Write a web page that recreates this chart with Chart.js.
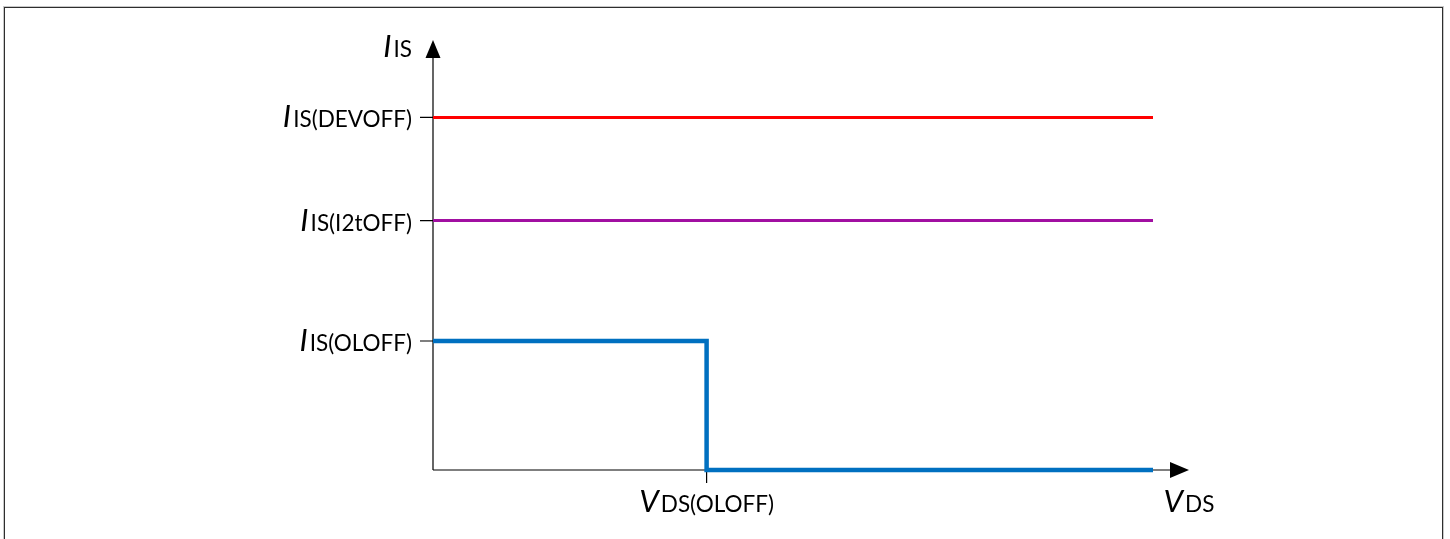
<!DOCTYPE html>
<html lang="en">
<head>
  <meta charset="UTF-8">
  <title>IS vs VDS</title>
  <script src="https://cdn.jsdelivr.net/npm/chart.js"></script>
  <style>
    body {
      margin: 0;
      background-color: #fff;
      overflow: hidden;
    }

    .frame {
      position: absolute;
      left: 4px;
      top: 7px;
      width: 1437px;
      height: 600px;
      border: 1px solid #2e2e2e;
      box-shadow: 0 0 0 1px #c8c8c8;
    }

    #chart {
      position: absolute;
      left: 0;
      top: 0;
    }
  </style>
</head>
<body>

  <div class="frame"></div>
  <canvas id="chart" width="1450" height="539"></canvas>

  <script>
    // axis ranges (arbitrary units)
    const xMax = 10.5;
    const yMax = 10;

    // threshold levels on the IS axis
    const yTickValues = [8.2, 5.8, 3];
    const yTickMain = ["I", "I", "I"];
    const yTickSub = ["IS(DEVOFF)", "IS(I2tOFF)", "IS(OLOFF)"];

    // threshold on the VDS axis
    const xTickValues = [3.8];
    const xTickMain = ["V"];
    const xTickSub = ["DS(OLOFF)"];

    // series
    const devoffX = [0, 10];
    const devoffY = [8.2, 8.2];
    const i2tX = [0, 10];
    const i2tY = [5.8, 5.8];
    const oloffX = [0, 3.8, 3.8, 10];
    const oloffY = [3, 3, 0, 0];

    const FONT = "Lato, 'Open Sans', sans-serif";

    const toPoints = (xs, ys) => xs.map((x, i) => ({ x, y: ys[i] }));

    // draws "I" italic + subscript text, aligned by right edge or center
    function drawRich(ctx, main, sub, x, y, align) {
      const mainFont = "italic 31px " + FONT;
      const subFont = "22.5px " + FONT;
      ctx.font = mainFont;
      const w1 = ctx.measureText(main).width;
      ctx.font = subFont;
      const w2 = ctx.measureText(sub).width;
      const total = w1 + 2 + w2;
      let left = x;
      if (align === "right") left = x - total;
      if (align === "center") left = x - total / 2;
      ctx.fillStyle = "#000";
      ctx.textBaseline = "alphabetic";
      ctx.textAlign = "left";
      ctx.font = mainFont;
      ctx.fillText(main, left, y);
      ctx.font = subFont;
      ctx.fillText(sub, left + w1 + 2, y);
    }

    const axesPlugin = {
      id: "axesPlugin",
      beforeDatasetsDraw(chart) {
        const ctx = chart.ctx;
        const xs = chart.scales.x;
        const ys = chart.scales.y;
        const x0 = xs.getPixelForValue(0);
        const y0 = ys.getPixelForValue(0);
        const xEnd = xs.getPixelForValue(xMax);
        const yEnd = ys.getPixelForValue(yMax);

        ctx.save();
        ctx.strokeStyle = "#000";
        ctx.fillStyle = "#000";
        ctx.lineWidth = 1.2;

        // axis lines
        ctx.beginPath();
        ctx.moveTo(x0, y0);
        ctx.lineTo(x0, yEnd + 14);
        ctx.moveTo(x0, y0);
        ctx.lineTo(xEnd - 16, y0);
        ctx.stroke();

        // arrow heads
        ctx.beginPath();
        ctx.moveTo(x0, yEnd);
        ctx.lineTo(x0 - 7.5, yEnd + 18);
        ctx.lineTo(x0 + 7.5, yEnd + 18);
        ctx.closePath();
        ctx.fill();
        ctx.beginPath();
        ctx.moveTo(xEnd, y0);
        ctx.lineTo(xEnd - 19, y0 - 8);
        ctx.lineTo(xEnd - 19, y0 + 8);
        ctx.closePath();
        ctx.fill();

        // ticks
        ctx.beginPath();
        yTickValues.forEach(v => {
          const py = ys.getPixelForValue(v);
          ctx.moveTo(x0 - 13, py);
          ctx.lineTo(x0, py);
        });
        xTickValues.forEach(v => {
          const px = xs.getPixelForValue(v);
          ctx.moveTo(px, y0);
          ctx.lineTo(px, y0 + 13);
        });
        ctx.stroke();

        // tick labels
        yTickValues.forEach((v, i) => {
          const py = ys.getPixelForValue(v);
          drawRich(ctx, yTickMain[i], yTickSub[i], x0 - 21, py + 10, "right");
        });
        xTickValues.forEach((v, i) => {
          const px = xs.getPixelForValue(v);
          drawRich(ctx, xTickMain[i], xTickSub[i], px, y0 + 42, "center");
        });

        // axis titles
        drawRich(ctx, "I", "IS", x0 - 21, yEnd + 17, "right");
        drawRich(ctx, "V", "DS", xEnd, y0 + 42, "center");
        ctx.restore();
      }
    };

    new Chart(document.getElementById("chart"), {
      type: "line",
      data: {
        datasets: [
          {
            label: "IS(DEVOFF)",
            data: toPoints(devoffX, devoffY),
            borderColor: "#ff0000",
            borderWidth: 3
          },
          {
            label: "IS(I2tOFF)",
            data: toPoints(i2tX, i2tY),
            borderColor: "#a10fa1",
            borderWidth: 3
          },
          {
            label: "IS(OLOFF)",
            data: toPoints(oloffX, oloffY),
            borderColor: "#0070c0",
            borderWidth: 4.5
          }
        ]
      },
      options: {
        responsive: false,
        animation: false,
        layout: {
          padding: { left: 433, top: 40, right: 261, bottom: 69 }
        },
        elements: {
          point: { radius: 0 },
          line: { tension: 0, borderCapStyle: "butt", borderJoinStyle: "miter" }
        },
        datasets: { line: { clip: false } },
        plugins: {
          legend: { display: false },
          tooltip: { enabled: false }
        },
        scales: {
          x: { type: "linear", min: 0, max: xMax, display: false },
          y: { type: "linear", min: 0, max: yMax, display: false }
        }
      },
      plugins: [axesPlugin]
    });
  </script>
</body>
</html>
